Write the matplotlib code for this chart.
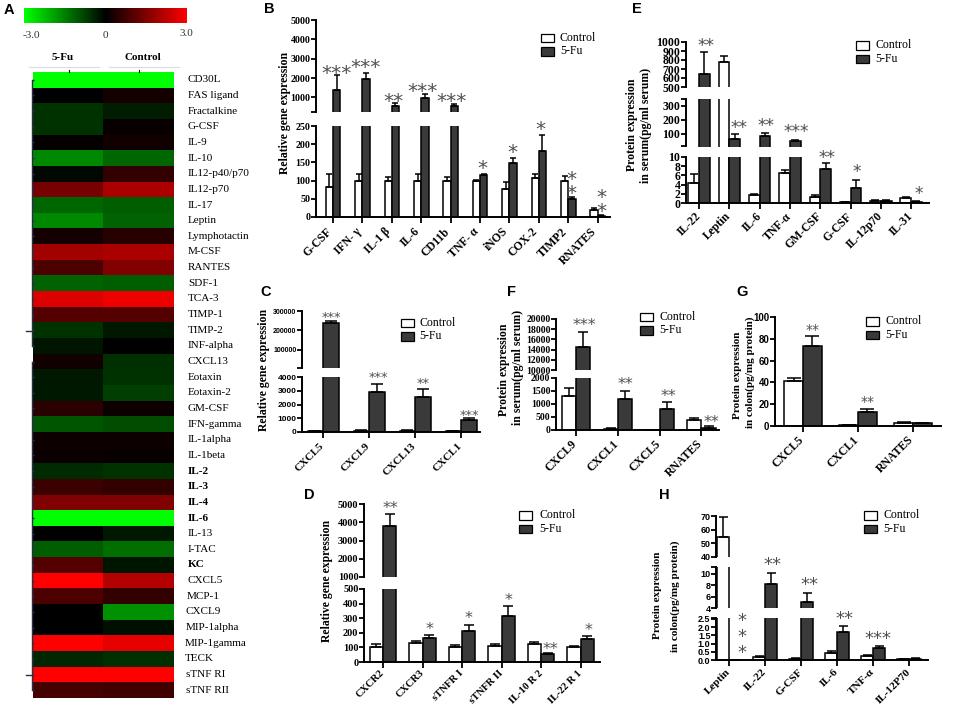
import numpy as np
import matplotlib
matplotlib.use('Agg')
import matplotlib.pyplot as plt
from matplotlib.colors import LinearSegmentedColormap, Normalize
from matplotlib.cm import ScalarMappable
from matplotlib.patches import Rectangle
from matplotlib.transforms import ScaledTranslation

W, H = 964, 718
SERIF = 'Liberation Serif'
SANS = 'Liberation Sans'
DARK = '#3a3a3a'

# A: heatmap
cytokines = ['CD30L', 'FAS ligand', 'Fractalkine', 'G-CSF', 'IL-9', 'IL-10', 'IL12-p40/p70', 'IL12-p70',
             'IL-17', 'Leptin', 'Lymphotactin', 'M-CSF', 'RANTES', 'SDF-1', 'TCA-3', 'TIMP-1', 'TIMP-2',
             'INF-alpha', 'CXCL13', 'Eotaxin', 'Eotaxin-2', 'GM-CSF', 'IFN-gamma', 'IL-1alpha', 'IL-1beta',
             'IL-2', 'IL-3', 'IL-4', 'IL-6', 'IL-13', 'I-TAC', 'KC', 'CXCL5', 'MCP-1', 'CXCL9', 'MIP-1alpha',
             'MIP-1gamma', 'TECK', 'sTNF RI', 'sTNF RII']
bold_cytokines = ['IL-2', 'IL-3', 'IL-4', 'IL-6', 'KC']
heat_fu = [-3, 0, -0.6, -0.6, 0.05, -1.6, -0.1, 1.4, -1.2, -1.6, 0.25, 1.9, 0.9, -1.15, 2.6, 1.0, -0.6, -0.25,
           0.2, -0.3, -0.3, 0.5, -1.0, 0.15, 0.12, -0.5, 0.7, 1.5, -3, 0, -1.1, 1.0, 3, 0.9, 0, 0, 3, -0.45, 3, 0.8]
heat_control = [-3, 0.25, -0.35, 0.1, 0.2, -1.2, 0.6, 2.0, -1.1, -1.15, 0.45, 2.0, 1.5, -1.1, 2.8, 1.0, -0.3, 0,
                -0.55, -0.6, -0.75, 0.15, -0.9, 0.15, 0.1, -0.6, 0.6, 1.5, -3, -0.3, -1.3, -0.25, 2.1, 0.6, -1.7,
                -0.2, 2.7, -0.55, 3, 0.75]

# B
b_names = ['G-CSF', 'IFN- γ', 'IL-1 β', 'IL-6', 'CD11b', 'TNF- α', 'iNOS', 'COX-2', 'TIMP2', 'RNATES']
b_control = [83, 100, 100, 100, 100, 100, 78, 106, 100, 18]
b_control_top = [118, 119, 110, 118, 111, 102, 97, 118, 114, 24]
b_fu = [1400, 1950, 550, 950, 580, 116, 148, 180, 49, 4]
b_fu_top = [2150, 2280, 690, 1160, 660, 118, 161, 225, 56, 5]

# C
c_names = ['CXCL5', 'CXCL9', 'CXCL13', 'CXCL1']
c_control = [80, 100, 100, 80]
c_control_top = [95, 120, 125, 95]
c_fu = [238000, 2880, 2560, 860]
c_fu_top = [246000, 3500, 3130, 1000]

# D
d_names = ['CXCR2', 'CXCR3', 'sTNFR I', 'sTNFR II', 'IL-10 R 2', 'IL-22 R 1']
d_control = [100, 130, 100, 108, 120, 100]
d_control_top = [125, 145, 115, 125, 137, 108]
d_fu = [3800, 162, 213, 315, 55, 160]
d_fu_top = [4470, 183, 255, 385, 65, 178]

# E
e_names = ['IL-22', 'Leptin', 'IL-6', 'TNF-α', 'GM-CSF', 'G-CSF', 'IL-12p70', 'IL-31']
e_control = [4.3, 780, 1.7, 6.5, 1.2, 0.2, 0.5, 1.0]
e_control_top = [6.4, 845, 1.9, 7.2, 1.8, 0.3, 0.6, 1.2]
e_fu = [650, 65, 85, 50, 7.4, 3.3, 0.5, 0.3]
e_fu_top = [885, 100, 108, 55, 8.8, 5.0, 0.7, 0.4]

# F
f_names = ['CXCL9', 'CXCL1', 'CXCL5', 'RNATES']
f_control = [1300, 50, 10, 390]
f_control_top = [1630, 60, 15, 470]
f_fu = [14500, 1190, 820, 90]
f_fu_top = [17400, 1510, 1090, 140]

# G
g_names = ['CXCL5', 'CXCL1', 'RNATES']
g_control = [41, 1, 3]
g_control_top = [44, 1.3, 3.3]
g_fu = [73.5, 12.5, 2.5]
g_fu_top = [83, 16, 3]

# H
h_names = ['Leptin', 'IL-22', 'G-CSF', 'IL-6', 'TNF-α', 'IL-12P70']
h_control = [55, 0.18, 0.08, 0.45, 0.25, 0.07]
h_control_top = [69, 0.25, 0.1, 0.55, 0.3, 0.08]
h_fu = [0, 8.2, 5.0, 1.7, 0.75, 0.08]
h_fu_top = [0, 10.2, 6.6, 2.05, 0.88, 0.1]

fig = plt.figure(figsize=(W / 100, H / 100), dpi=100)


def rect(left, top, right, bottom):
    return [left / W, 1 - bottom / H, (right - left) / W, (bottom - top) / H]


def bar_panel(left, right, first_tick, step, bar_px, segments, names, control, control_top, fu, fu_top,
              tick_font=SERIF, tick_size=7.2, name_size=8.5, shift=(0, 0)):
    # segments go from top to bottom: (top px, bottom px, ymin, ymax, ticks, label size)
    w = bar_px / step
    x = np.arange(len(names))
    control = np.array(control, dtype=float)
    fu = np.array(fu, dtype=float)
    up_c = np.array(control_top, dtype=float) - control
    up_f = np.array(fu_top, dtype=float) - fu
    for n, (top, bottom, ymin, ymax, ticks, size) in enumerate(segments):
        ax = fig.add_axes(rect(left, top, right, bottom))
        ax.patch.set_alpha(0)
        # bars that end below this part of the broken axis are left out of it
        cap = bar_px * 0.27
        for sign, vals, ups, colour in [(-1, control, up_c, 'white'), (1, fu, up_f, DARK)]:
            keep = vals + ups >= ymin
            xs = x[keep] + sign * w / 2
            solid = vals[keep] >= ymin
            ax.bar(xs[solid], vals[keep][solid], w, color=colour, edgecolor='black', linewidth=1.1)
            ax.errorbar(xs, vals[keep], yerr=[np.zeros(len(xs)), ups[keep]], fmt='none', ecolor='black',
                        elinewidth=1.1, capsize=cap, capthick=1.1)
        ax.set_xlim((left - first_tick) / step, (right - first_tick) / step)
        ax.set_ylim(ymin, ymax)
        for side in ['top', 'right', 'bottom']:
            ax.spines[side].set_visible(False)
        ax.spines['left'].set_linewidth(1.4)
        ax.set_yticks(ticks)
        ax.set_yticklabels([str(t) for t in ticks], fontfamily=tick_font, fontweight='bold', fontsize=size or tick_size)
        ax.set_yticks([ymin, ymax], minor=True)
        ax.tick_params(axis='y', which='both', length=3.5, width=1.3, pad=0.5)
        if n == len(segments) - 1:
            ax.spines['bottom'].set_visible(True)
            ax.spines['bottom'].set_linewidth(1.4)
            ax.set_xticks(x)
            labels = ax.set_xticklabels(names, rotation=45, ha='right', va='center', rotation_mode='anchor',
                                        fontfamily=SERIF, fontweight='bold', fontsize=name_size)
            ax.tick_params(axis='x', length=4, width=1.3, pad=3)
            nudge = ScaledTranslation(shift[0] / 100, -shift[1] / 100, fig.dpi_scale_trans)
            for label in labels:
                label.set_transform(label.get_transform() + nudge)
        else:
            ax.set_xticks([])


bar_panel(316, 610, 333, 29.4, 7.3,
          [(20, 112, 250, 5000, [1000, 2000, 3000, 4000, 5000], None),
           (126, 217, 0, 250, [0, 50, 100, 150, 200, 250], None)],
          b_names, b_control, b_control_top, b_fu, b_fu_top, shift=(-3, 3))
bar_panel(302, 480, 323, 46, 15.5,
          [(311, 368, 4000, 300000, [100000, 200000, 300000], 5),
           (377, 432, 0, 4000, [0, 1000, 2000, 3000, 4000], 6)],
          c_names, c_control, c_control_top, c_fu, c_fu_top, tick_font=SANS, name_size=7.8, shift=(-1, 3))
bar_panel(364, 600, 383, 39.5, 13.3,
          [(504, 577, 1000, 5000, [1000, 2000, 3000, 4000, 5000], None),
           (589, 662, 0, 500, [0, 100, 200, 300, 400, 500], None)],
          d_names, d_control, d_control_top, d_fu, d_fu_top, tick_size=7.5, name_size=7.5)
bar_panel(686, 929, 699, 30.3, 10.7,
          [(42, 87, 500, 1000, [500, 600, 700, 800, 900, 1000], None),
           (99, 146.5, 10, 350, [100, 200, 300], None),
           (157, 203, 0, 10, [0, 2, 4, 6, 8, 10], None)],
          e_names, e_control, e_control_top, e_fu, e_fu_top, tick_size=8.5, name_size=8.5, shift=(0, 2))
bar_panel(556, 719, 576, 41.8, 14.3,
          [(319, 370, 10000, 20000, [10000, 12000, 14000, 16000, 18000, 20000], None),
           (378, 430, 0, 2000, [0, 500, 1000, 1500, 2000], None)],
          f_names, f_control, f_control_top, f_fu, f_fu_top, tick_size=7, name_size=8.5, shift=(-1, 2))
bar_panel(775, 941, 803, 55, 18.7,
          [(317, 426, 0, 100, [0, 20, 40, 60, 80, 100], None)],
          g_names, g_control, g_control_top, g_fu, g_fu_top, tick_font=SANS, tick_size=7, name_size=8.5, shift=(-1, 2))
bar_panel(716, 928, 729, 36, 12,
          [(516, 557, 40, 70, [40, 50, 60, 70], None),
           (567, 608, 4, 11.2, [4, 6, 8, 10], None),
           (618, 660, 0, 2.56, [0.0, 0.5, 1.0, 1.5, 2.0, 2.5], None)],
          h_names, h_control, h_control_top, h_fu, h_fu_top, tick_font=SANS, tick_size=6.5, name_size=8, shift=(0, 1))

# heatmap A
cmap = LinearSegmentedColormap.from_list('gbr', ['#00ff00', '#000000', '#ff0000'])
ax_heat = fig.add_axes(rect(33, 72, 173, 698))
ax_heat.imshow(np.column_stack([heat_fu, heat_control]), cmap=cmap, vmin=-3, vmax=3, aspect='auto',
               interpolation='nearest')
ax_heat.axis('off')
cax = fig.add_axes(rect(24, 8, 187, 23))
cb = fig.colorbar(ScalarMappable(Normalize(-3, 3), cmap), cax=cax, orientation='horizontal')
cb.set_ticks([])
cb.outline.set_visible(False)

# overlay in pixel coordinates for the loose text
ov = fig.add_axes([0, 0, 1, 1], zorder=10)
ov.set_xlim(0, W)
ov.set_ylim(H, 0)
ov.axis('off')
ov.patch.set_alpha(0)


def stars(cx, cy, n, spacing):
    # one string per group, the asterisk advance is half an em so spacing sets the size
    em = spacing * 2
    ov.text(cx, cy + 0.5 * em, '*' * n, family='DejaVu Sans', fontsize=em * 0.72,
            color='#505050', ha='center', va='baseline')


def stars_up(cx, cy, n, gap, spacing):
    # stacked asterisks, cy is the centre of the top one (baseline anchors on the last line)
    em = spacing * 2
    ov.text(cx, cy + (n - 1) * gap + 0.5 * em, '\n'.join('*' * n), family='DejaVu Sans', fontsize=em * 0.72,
            color='#505050', ha='center', va='baseline', linespacing=gap / (0.76 * em))


def legend(left, top, text_x, size=8.5, box_w=13, box_h=8.5, gap=13.5):
    ov.add_patch(Rectangle((left, top), box_w, box_h, facecolor='white', edgecolor='black', linewidth=0.9))
    ov.add_patch(Rectangle((left, top + gap), box_w, box_h, facecolor=DARK, edgecolor='black', linewidth=0.9))
    ov.text(text_x, top + box_h / 2, 'Control', family=SERIF, fontsize=size, va='center')
    ov.text(text_x, top + gap + box_h / 2, '5-Fu', family=SERIF, fontsize=size, va='center')


def vlabel(x, y, text, size=8.5):
    ov.text(x, y, text, rotation=90, family=SERIF, fontweight='bold', fontsize=size, ha='center', va='center')


for letter, lx, ly in [('A', 9, 10), ('B', 269, 9), ('C', 266, 292), ('D', 309, 495),
                       ('E', 637, 9), ('F', 511, 292), ('G', 742, 292), ('H', 664, 495)]:
    ov.text(lx, ly, letter, family=SANS, fontweight='bold', fontsize=10.5, ha='center', va='center')

# colour bar labels and heat map headers
for text, lx, ly in [('-3.0', 31, 36), ('0', 105, 36), ('3.0', 186, 34)]:
    ov.text(lx, ly, text, family=SERIF, fontsize=8, color='#333333', ha='center', va='center')
ov.text(63, 58, '5-Fu', family=SERIF, fontweight='bold', fontsize=8, ha='center', va='center')
ov.text(143, 58, 'Control', family=SERIF, fontweight='bold', fontsize=8, ha='center', va='center')
ov.plot([29, 99], [67, 67], color='#dddddd', lw=0.8)
ov.plot([109, 179], [67, 67], color='#dddddd', lw=0.8)
ov.plot([69, 69], [70, 72], color='black', lw=0.8)
ov.plot([139, 139], [70, 72], color='black', lw=0.8)

# dendrogram
row_h = 626 / len(cytokines)
row_y = 72 + row_h * (np.arange(len(cytokines)) + 0.5)
den = '#2a2f45'
ov.plot([32, 32], [row_y[0], row_y[17]], color=den, lw=1)
ov.plot([32, 32], [row_y[18], row_y[39]], color=den, lw=1)
ov.hlines(row_y, 32, 33.5, color=den, lw=1)
ov.plot([26, 32], [331, 331], color=den, lw=1)
ov.plot([26, 32], [675, 675], color=den, lw=1)

label_x = [188] * 32 + [187, 187, 186, 186, 185, 185, 186, 186]
for name, lx, ly in zip(cytokines, label_x, row_y):
    ov.text(lx, ly, name, family=SERIF, fontsize=8, va='center',
            fontweight='bold' if name in bold_cytokines else 'normal')

# legends
legend(541, 33.5, 560)
legend(401, 318.5, 419)
legend(519, 511, 539)
legend(856, 41, 875)
legend(640, 312.5, 659)
legend(866, 317, 885)
legend(864, 511, 883)

# axis titles
vlabel(285, 113, 'Relative gene expression')
vlabel(264, 370, 'Relative gene expression')
vlabel(327, 581, 'Relative gene expression')
vlabel(632, 125, 'Protein expression')
vlabel(646, 125, 'in serum(pg/ml serum)')
vlabel(504, 370, 'Protein expression')
vlabel(518, 367, 'in serum(pg/ml serum)')
vlabel(737, 375, 'Protein expression', size=8)
vlabel(750, 372, 'in colon(pg/mg protein)', size=8)
vlabel(658, 595, 'Protein expression', size=8)
vlabel(675, 596, 'in colon(pg/mg protein)', size=8)

# significance stars
for cx, cy, n in [(337, 69, 3), (366, 63, 3), (393, 97, 2), (423, 87, 3), (452, 97, 3),
                  (482, 164, 1), (512, 148, 1), (540, 125, 1)]:
    stars(cx, cy, n, 10)
stars_up(571, 179, 2, 10, 10)
stars_up(601, 197, 2, 10, 10)
for cx, cy, n in [(331, 314, 3), (378, 375, 3), (423, 381, 2), (469, 412, 3)]:
    stars(cx, cy, n, 6.5)
for cx, cy, n in [(390, 505, 2), (430, 626, 1), (469, 615, 1), (509, 597, 1), (550, 646, 2), (589, 627, 1)]:
    stars(cx, cy, n, 8)
for cx, cy, n in [(706, 42, 2), (739, 125, 2), (766, 123, 2), (796, 129, 3), (827, 154, 2), (857, 169, 1), (919, 190, 1)]:
    stars(cx, cy, n, 8.5)
for cx, cy, n in [(584, 322, 3), (625, 381, 2), (668, 393, 2), (711, 419, 2)]:
    stars(cx, cy, n, 8)
for cx, cy, n in [(813, 327, 2), (868, 399, 2)]:
    stars(cx, cy, n, 7)
stars_up(742, 626, 3, 11.5, 9)
for cx, cy, n in [(772, 561, 2), (809, 581, 2), (844, 615, 2), (878, 635, 3)]:
    stars(cx, cy, n, 9)

fig.savefig('out.png', dpi=100)
